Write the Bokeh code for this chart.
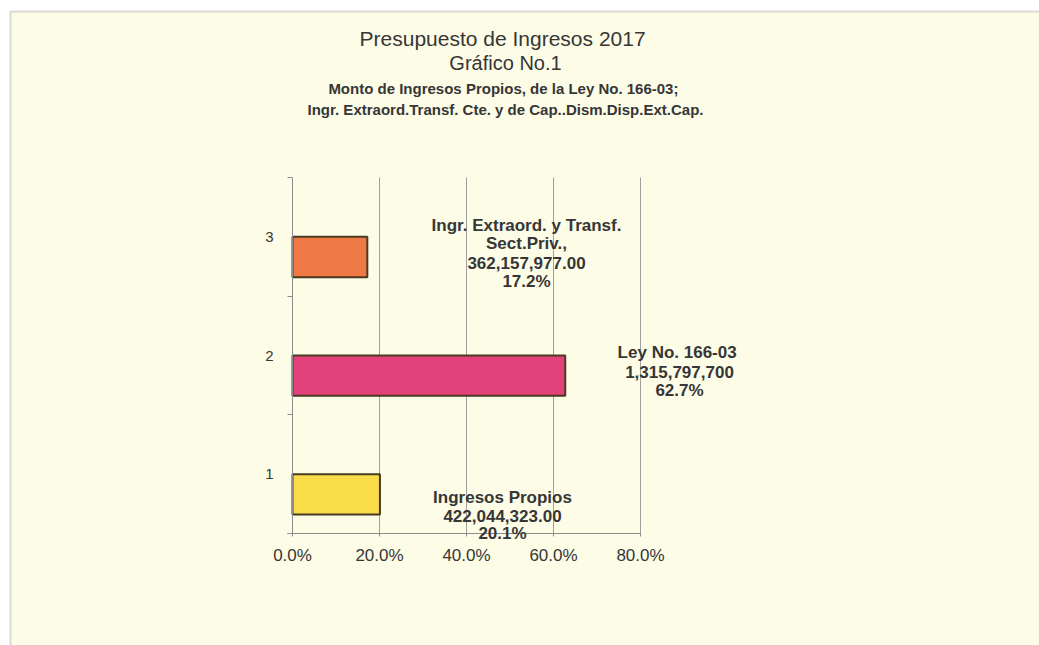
from bokeh.plotting import figure
from bokeh.models import (Label, FixedTicker, PrintfTickFormatter, BoxAnnotation,
                          ColumnDataSource, Range1d, LinearAxis)
from bokeh.embed import file_html
from bokeh.resources import INLINE

# ---------------- data ----------------
categories = [1, 2, 3]
category_labels = ["1", "2", "3"]
series_names = [["Ingresos Propios"],
                ["Ley  No. 166-03"],
                ["Ingr. Extraord. y Transf.", "Sect.Priv.,"]]
amounts = ["422,044,323.00", "1,315,797,700", "362,157,977.00"]
percents = [20.1, 62.7, 17.2]
bar_colors = ["#F8DC48", "#E2417A", "#F07A45"]
x_ticks = [0, 20, 40, 60, 80]

title_lines = ["Presupuesto de Ingresos  2017", "Gráfico No.1",
               "Monto de Ingresos  Propios, de la Ley No. 166-03;",
               "Ingr. Extraord.Transf. Cte. y de Cap..Dism.Disp.Ext.Cap."]

# ---------------- layout ----------------
W, H = 1039, 645
PL, PR, PT, PB = 292, 640, 177, 533          # chart area edges (px)
XMIN, XMAX, YMIN, YMAX = 0, 80, 0.5, 3.5
BG = "#FDFCE6"
TXT = "#363636"
FONT = "Liberation Sans"
GRAY = "#8c8c8c"

sx = (PR - PL) / (XMAX - XMIN)
sy = (PB - PT) / (YMAX - YMIN)


def dx(px):  # canvas px -> data x
    return XMIN + (px - PL) / sx


def dy(py):  # canvas px (from top) -> data y
    return YMIN + (PB - py) / sy


p = figure(width=W, height=H, output_backend="svg", toolbar_location=None,
           x_range=Range1d(dx(0), dx(W)), y_range=Range1d(dy(H), dy(0)),
           x_axis_location=None, y_axis_location=None, min_border=0,
           background_fill_color="white", border_fill_color="white")
p.outline_line_color = None
p.grid.visible = False

# scanned sheet (cream paper with top/left frame line)
p.add_layout(BoxAnnotation(left=dx(10), right=dx(W + 60), top=dy(11), bottom=dy(H + 60),
                           fill_color=BG, fill_alpha=1, line_color=GRAY,
                           line_width=2, level="underlay"))

# vertical grid lines
p.segment(x0=x_ticks[1:], x1=x_ticks[1:], y0=YMIN, y1=YMAX,
          line_color="#a0a0a0", line_width=1)

# bars
bar_offset = 0.17
bar_height = 0.34
src = ColumnDataSource(dict(y=[c - bar_offset for c in categories],
                            right=percents, color=bar_colors))
p.hbar(y="y", left=0, right="right", height=bar_height, source=src,
       fill_color="color", line_color="#4a3a22", line_width=2)

# axes
xa = LinearAxis(fixed_location=YMIN, bounds=(-1.1, XMAX))
xa.ticker = FixedTicker(ticks=x_ticks, minor_ticks=[])
xa.formatter = PrintfTickFormatter(format="%.1f%%")
xa.axis_line_color = GRAY
xa.major_tick_line_color = GRAY
xa.major_tick_out = 3
xa.major_tick_in = 0
xa.major_label_standoff = 9
xa.major_label_text_font = FONT
xa.major_label_text_font_size = "17px"
xa.major_label_text_color = TXT
p.add_layout(xa, "below")

ya = LinearAxis(fixed_location=XMIN, bounds=(YMIN, YMAX))
ya.ticker = FixedTicker(ticks=categories, minor_ticks=[0.5, 1.5, 2.5, 3.5])
ya.major_label_overrides = {c: l for c, l in zip(categories, category_labels)}
ya.axis_line_color = GRAY
ya.major_tick_line_color = None
ya.major_tick_out = 0
ya.major_tick_in = 0
ya.minor_tick_line_color = GRAY
ya.minor_tick_out = 5
ya.minor_tick_in = 0
ya.major_label_standoff = 14
ya.major_label_text_font = FONT
ya.major_label_text_font_size = "15px"
ya.major_label_text_color = TXT
p.add_layout(ya, "left")

# titles
title_cx = 505
title_y = [38, 62, 88, 109]
title_sizes = ["21px", "20px", "15px", "15px"]
title_styles = ["normal", "normal", "bold", "bold"]
for t, ty, fs, st in zip(title_lines, title_y, title_sizes, title_styles):
    p.add_layout(Label(x=dx(title_cx), y=dy(ty), text=t, text_align="center",
                       text_baseline="middle", text_font=FONT,
                       text_font_size=fs, text_font_style=st, text_color=TXT))

# data labels
label_cx = [502, 679, 526]
label_y = [[497, 515, 533], [352, 371, 390], [225, 243, 262, 281]]
for i in range(len(categories)):
    lines = series_names[i] + [amounts[i], f"{percents[i]:.1f}%"]
    for ln, ly in zip(lines, label_y[i]):
        p.add_layout(Label(x=dx(label_cx[i]), y=dy(ly), text=ln,
                           text_align="center", text_baseline="middle",
                           text_font=FONT, text_font_size="17px",
                           text_font_style="bold", text_color=TXT))

open("out.html", "w").write(file_html(p, INLINE))
